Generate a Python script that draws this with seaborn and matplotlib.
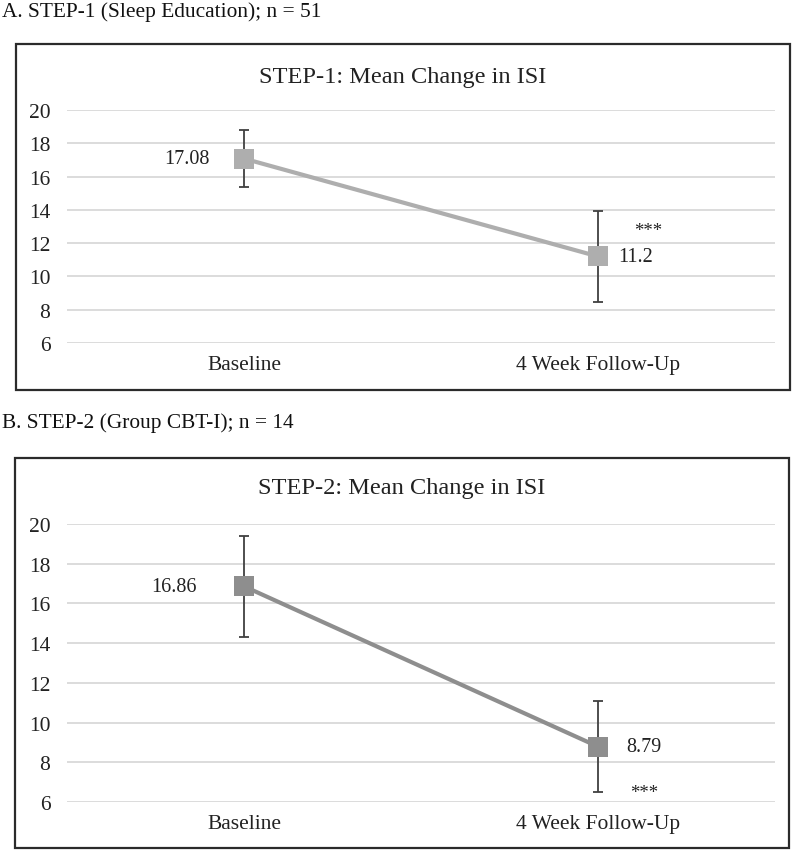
import numpy as np
import pandas as pd
import matplotlib
matplotlib.use("Agg")
import matplotlib.pyplot as plt
from matplotlib.patches import Rectangle
import seaborn as sns

# values
timepoints = ["Baseline", "4 Week Follow-Up"]
step1_mean = [17.08, 11.2]
step1_err = [1.72, 2.73]
step2_mean = [16.86, 8.79]
step2_err = [2.56, 2.28]
yticks = [6, 8, 10, 12, 14, 16, 18, 20]

sns.set_theme(style="white")
plt.rcParams['font.family'] = ['Liberation Serif', 'DejaVu Serif']

fig = plt.figure(figsize=(8, 8.54), dpi=100)
W, H = 800, 854


def fx(px):
    return px / W


def fy(py):
    return 1 - py / H


def panel(ax_box, frame, heading, title, means, errs, color, lbl_offsets, star_offset):
    # outer frame and heading
    x0, y0, x1, y1 = frame
    fig.patches.append(Rectangle((fx(x0), fy(y1)), fx(x1 - x0), (y1 - y0) / H,
                                 transform=fig.transFigure, fill=False,
                                 edgecolor="#2b2b2b", linewidth=1.6))
    fig.text(fx(2), fy(heading[1]), heading[0], fontsize=15.4, va="center", ha="left", color="#111111")
    fig.text(fx((x0 + x1) / 2), fy(title[1]), title[0], fontsize=17.6, va="center", ha="center", color="#222222")

    l, t, r, b = ax_box
    ax = fig.add_axes([fx(l), fy(b), fx(r - l), (b - t) / H])
    df = pd.DataFrame({"time": timepoints, "isi": means})
    ax.errorbar(df["time"], df["isi"], yerr=errs, fmt="none", ecolor="#404040",
                elinewidth=1.3, capsize=3.5, capthick=1.3, zorder=2)
    sns.lineplot(data=df, x="time", y="isi", ax=ax, color=color, linewidth=3,
                 marker="s", markersize=14, markeredgewidth=0, zorder=3)
    ax.set_xlim(-0.5, 1.5)
    ax.set_ylim(6, 20)
    ax.set_yticks(yticks)
    ax.set_yticklabels([str(v) for v in yticks])
    ax.yaxis.grid(True, color="#d9d9d9", linewidth=1.3)
    ax.set_axisbelow(True)
    for s in ax.spines.values():
        s.set_visible(False)
    ax.tick_params(axis="y", length=0, pad=12, labelsize=15.5, labelcolor="#222222")
    ax.tick_params(axis="x", length=0, pad=9, labelsize=15.5, labelcolor="#222222")
    ax.set_xlabel("")
    ax.set_ylabel("")
    ax.set_facecolor("none")

    for i, (m, off) in enumerate(zip(means, lbl_offsets)):
        ha = "right" if off < 0 else "left"
        ax.annotate(f"{m:g}", (i, m), xytext=(off, 0), textcoords="offset pixels",
                    ha=ha, va="center", fontsize=14.5, color="#222222")
    ax.annotate("***", (1, means[1]), xytext=star_offset, textcoords="offset pixels",
                ha="center", va="center", fontsize=13.5, color="#222222")
    return ax


panel((67, 111, 775, 344), (16, 45, 790, 391),
      ("A. STEP-1 (Sleep Education); n = 51", 12), ("STEP-1: Mean Change in ISI", 78),
      step1_mean, step1_err, "#aeaeae", (-34, 20), (50, 26))

panel((67, 525, 775, 803), (15, 459, 789, 849),
      ("B. STEP-2 (Group CBT-I); n = 14", 423), ("STEP-2: Mean Change in ISI", 489),
      step2_mean, step2_err, "#8e8e8e", (-47, 28), (46, -46))

fig.savefig("out.png", dpi=100, facecolor="white")
